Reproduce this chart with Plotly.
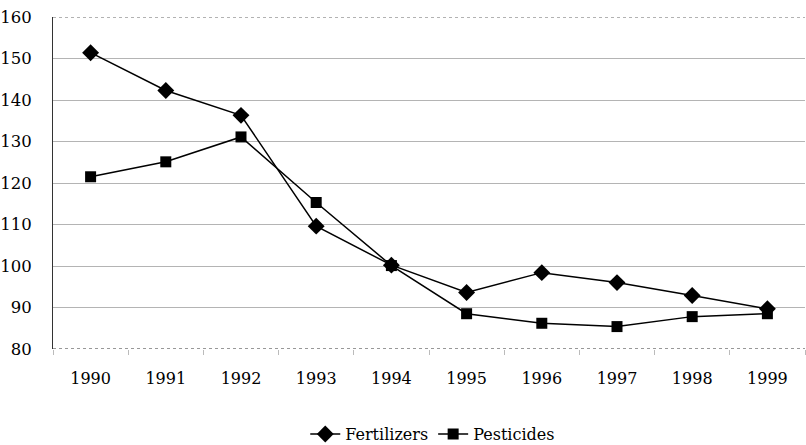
import plotly.graph_objects as go

years = ["1990", "1991", "1992", "1993", "1994", "1995", "1996", "1997", "1998", "1999"]
fertilizers = [151.4, 142.3, 136.3, 109.6, 100.2, 93.6, 98.4, 96.0, 92.9, 89.7]
pesticides = [121.5, 125.1, 131.1, 115.3, 100.1, 88.5, 86.2, 85.4, 87.8, 88.5]
y_ticks = [80, 90, 100, 110, 120, 130, 140, 150, 160]

serif = "DejaVu Serif"

fig = go.Figure()
fig.add_trace(go.Scatter(x=years, y=fertilizers, name="Fertilizers", mode="lines+markers",
                         line=dict(color="black", width=1.5),
                         marker=dict(symbol="diamond", size=13, color="black")))
fig.add_trace(go.Scatter(x=years, y=pesticides, name="Pesticides", mode="lines+markers",
                         line=dict(color="black", width=1.5),
                         marker=dict(symbol="square", size=11, color="black")))

fig.update_layout(
    width=806, height=445,
    margin=dict(l=53, r=1, t=17, b=96, autoexpand=False),
    paper_bgcolor="white", plot_bgcolor="white",
    font=dict(family=serif, size=16, color="black"),
    showlegend=True,
    legend=dict(orientation="h", x=0.505, xanchor="center", y=-0.205, yanchor="top",
                font=dict(family=serif, size=16), itemwidth=30, tracegroupgap=0),
    xaxis=dict(type="category", showgrid=False, zeroline=False, ticks="outside",
               tickson="boundaries", ticklen=5, tickcolor="#bbb", showline=False,
               range=[-0.5, 9.5], ticklabelstandoff=18, automargin=False,
               tickfont=dict(family=serif, size=16)),
    yaxis=dict(range=[80, 160], tickvals=y_ticks, showgrid=True, gridcolor="#b4b4b4",
               gridwidth=1, zeroline=False, showline=True, linecolor="#333", linewidth=1,
               ticks="", ticklabelstandoff=17, automargin=False,
               tickfont=dict(family=serif, size=16.5)),
    shapes=[
        dict(type="line", xref="paper", yref="y", x0=0, x1=1, y0=160, y1=160,
             line=dict(color="#666", width=1.2, dash="dot")),
        dict(type="line", xref="paper", yref="y", x0=0, x1=1, y0=80, y1=80,
             line=dict(color="#333", width=1.2, dash="dot")),
    ],
)

fig.write_html("out.html", config={"displayModeBar": False},
               post_script="document.body.style.margin='0';")
